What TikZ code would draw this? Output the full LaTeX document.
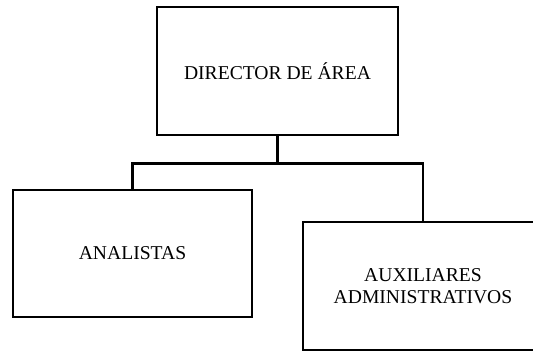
\documentclass[tikz,border=0pt]{standalone}
\usepackage{fontspec}
\setmainfont{Liberation Serif}
\tikzset{
  cargo/.style={draw,line width=2.5pt,minimum width=241pt,minimum height=128pt,
    align=center,font=\fontsize{19.6}{22}\selectfont},
  rama/.style={line width=2.5pt}
}
\begin{document}
\begin{tikzpicture}[x=1pt,y=-1pt]
  \useasboundingbox (0,0) rectangle (533,351);
  \node[cargo] (director) at (277.5,71) {DIRECTOR DE ÁREA};
  \node[cargo,minimum width=239pt,minimum height=127pt] (analistas) at (132.5,253.5) {ANALISTAS};
  \node[cargo,minimum width=240pt] (auxiliares) at (423,286) {AUXILIARES\\ADMINISTRATIVOS};
  \draw[rama] (director.south) -- ++(0,27) coordinate (hub);
  \draw[rama] (analistas.north) |- (hub) -| (auxiliares.north);
\end{tikzpicture}
\end{document}
